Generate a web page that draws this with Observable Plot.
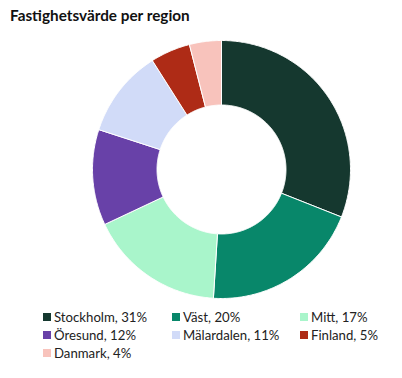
<!DOCTYPE html>
<html>
<head>
<meta charset="utf-8">
<script src="https://cdn.jsdelivr.net/npm/d3@7"></script>
<script src="https://cdn.jsdelivr.net/npm/@observablehq/plot@0.6"></script>
<style>
  body { margin: 0; background: #fff; font-family: Lato, "Open Sans", sans-serif; }
  #title { position: absolute; left: 10px; top: 6px; font-weight: 700; font-size: 15.3px; color: #111; letter-spacing: 0; }
  #chart { position: absolute; left: 0; top: 32px; }
  #legend { position: absolute; left: 0; top: 308px; width: 402px; font-size: 13.2px; color: #222; }
  .item { position: absolute; display: flex; align-items: center; white-space: nowrap; height: 18px; }
  .sw { width: 8px; height: 8px; margin-right: 3px; }
</style>
</head>
<body>
<div id="title">Fastighetsvärde per region</div>
<div id="chart"></div>
<div id="legend"></div>
<script>
const regions = ["Stockholm", "Väst", "Mitt", "Öresund", "Mälardalen", "Finland", "Danmark"];
const shares = [31, 20, 17, 12, 11, 5, 4];
const colors = ["#15382F", "#08876A", "#A9F5CB", "#6841A8", "#D1DBF8", "#AE2B16", "#F8C3BC"];
const innerRatio = 0.5;

// build slice polygons from the shares
const total = d3.sum(shares);
const pts = [];
let acc = 0;
regions.forEach((r, i) => {
  const a0 = acc / total * 2 * Math.PI;
  acc += shares[i];
  const a1 = acc / total * 2 * Math.PI;
  const n = Math.max(8, Math.ceil((a1 - a0) / 0.01));
  for (let k = 0; k <= n; k++) {
    const a = a0 + (a1 - a0) * k / n;
    pts.push({region: r, x: Math.sin(a), y: Math.cos(a)});
  }
  for (let k = n; k >= 0; k--) {
    const a = a0 + (a1 - a0) * k / n;
    pts.push({region: r, x: innerRatio * Math.sin(a), y: innerRatio * Math.cos(a)});
  }
  pts.push({region: r, x: Math.sin(a0), y: Math.cos(a0)});
});

const plot = Plot.plot({
  width: 402,
  height: 274,
  marginLeft: 92,
  marginRight: 52,
  marginTop: 8,
  marginBottom: 8,
  x: {domain: [-1, 1], axis: null},
  y: {domain: [-1, 1], axis: null},
  color: {domain: regions, range: colors},
  marks: [
    Plot.line(pts, {x: "x", y: "y", z: "region", fill: "region", stroke: "white", strokeWidth: 1, curve: "linear"})
  ]
});
document.getElementById("chart").appendChild(plot);

const lx = [43, 172, 300];
const legend = document.getElementById("legend");
regions.forEach((r, i) => {
  const d = document.createElement("div");
  d.className = "item";
  d.style.left = lx[i % 3] + "px";
  d.style.top = (Math.floor(i / 3) * 18) + "px";
  const s = document.createElement("span");
  s.className = "sw";
  s.style.background = colors[i];
  const t = document.createElement("span");
  t.textContent = `${r}, ${shares[i]}%`;
  d.appendChild(s); d.appendChild(t);
  legend.appendChild(d);
});
</script>
</body>
</html>
